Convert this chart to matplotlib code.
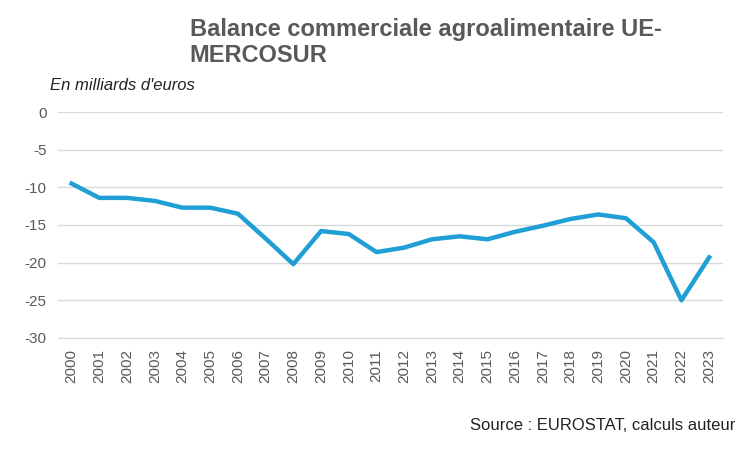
import matplotlib
matplotlib.use("Agg")
import matplotlib.pyplot as plt

years = [str(y) for y in range(2000, 2024)]
balance = [-9.5, -11.4, -11.4, -11.8, -12.7, -12.7, -13.5, -16.8, -20.2, -15.8,
           -16.2, -18.6, -18.0, -16.9, -16.5, -16.9, -15.9, -15.1, -14.2, -13.6,
           -14.1, -17.3, -25.0, -19.3]
yticks = [0, -5, -10, -15, -20, -25, -30]

plt.rcParams["font.family"] = ["Liberation Sans", "DejaVu Sans"]
fig = plt.figure(figsize=(7.5, 4.5), dpi=100)
ax = fig.add_axes([0.077, 0.249, 0.887, 0.502])

ax.plot(range(len(years)), balance, color="#1F9FD6", linewidth=3.2)
ax.set_ylim(-30, 0)
ax.set_xlim(-0.5, len(years) - 0.5)
ax.set_yticks(yticks)
ax.set_yticklabels([str(v) for v in yticks], fontsize=11, color="#595959")
ax.set_xticks(range(len(years)))
ax.set_xticklabels(years, rotation=90, fontsize=11, color="#595959")
ax.grid(axis="y", color="#D9D9D9", linewidth=1)
ax.tick_params(length=0, pad=8)
for s in ["top", "right", "left"]:
    ax.spines[s].set_visible(False)
ax.spines["bottom"].set_color("#D9D9D9")
ax.set_axisbelow(True)

fig.text(0.253, 0.96, "Balance commerciale agroalimentaire UE-\nMERCOSUR", fontsize=17,
         fontweight="bold", color="#595959", va="top", linespacing=1.15)
fig.text(0.067, 0.8, "En milliards d'euros", fontsize=12, style="italic", color="#222222")
fig.text(0.98, 0.045, "Source : EUROSTAT, calculs auteur", fontsize=12, ha="right", color="#222222")

fig.savefig("out.png", dpi=100)
